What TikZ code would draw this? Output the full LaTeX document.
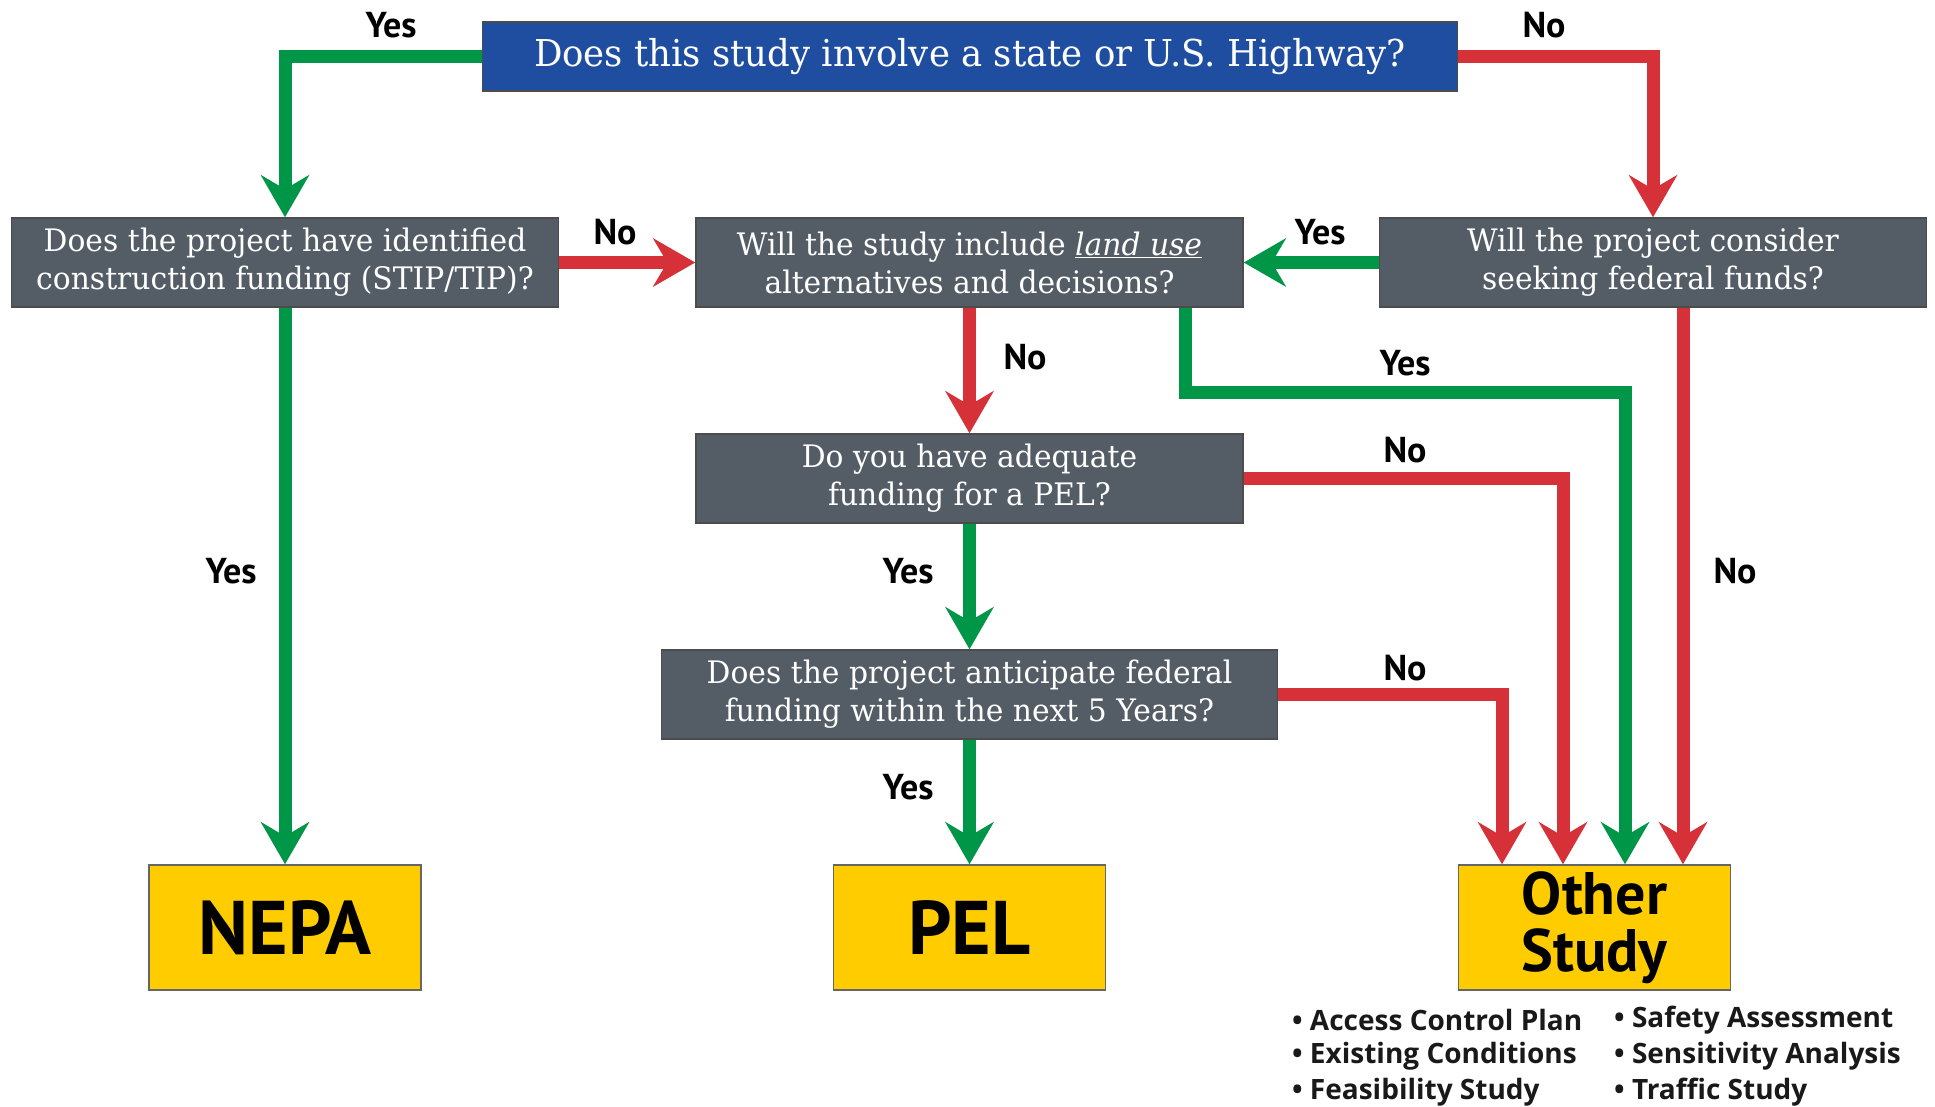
\documentclass[tikz,border=0pt]{standalone}
\usepackage{fontspec}
\usetikzlibrary{arrows.meta}
\newfontfamily\slabfont{DejaVu Serif}[FakeStretch=0.96]
\newfontfamily\labfont{PT Sans}
\newfontfamily\listfont{Open Sans}
\definecolor{hwblue}{RGB}{31,78,160}
\definecolor{qgray}{RGB}{84,93,102}
\definecolor{ygreen}{RGB}{0,150,72}
\definecolor{nred}{RGB}{214,48,56}
\definecolor{ayellow}{RGB}{255,204,0}
\tikzset{
  qbox/.style={draw=black!70, line width=1.5pt, fill=qgray, text=white, minimum width=547pt, minimum height=89pt, align=center, inner sep=0pt, font=\slabfont\fontsize{31}{38}\selectfont},
  topbox/.style={qbox, fill=hwblue, minimum width=975pt, minimum height=69pt, font=\slabfont\fontsize{37}{44}\selectfont},
  endbox/.style={draw=black!60, line width=1.5pt, fill=ayellow, minimum width=272pt, minimum height=125pt, align=center, inner sep=0pt},
  tipshape/.style={-{Stealth[length=42pt,width=48pt,inset=14pt]}},
  yesline/.style={draw=ygreen, line width=13pt, tipshape},
  noline/.style={draw=nred, line width=13pt, tipshape},
  lab/.style={font=\labfont\bfseries\fontsize{36}{40}\selectfont, text=black, inner sep=0pt},
  listitem/.style={font=\listfont\bfseries\fontsize{28}{32}\selectfont, text=black!90, anchor=west, inner sep=0pt}
}
\begin{document}
\begin{tikzpicture}[x=1pt,y=-1pt]
\fill[white] (0,0) rectangle (1935,1107);
\useasboundingbox (0,0) rectangle (1935,1107);

\node[topbox] (q0) at (970,56.5) {Does this study involve a state or U.S. Highway?};
\node[qbox] (qa) at (285,262.5) {Does the project have identified\\construction funding (STIP/TIP)?};
\node[qbox] (qb) at (969.5,262.5) {Will the study include \underline{\textit{land use}}\\alternatives and decisions?};
\node[qbox] (qc) at (1653,262.5) {Will the project consider\\seeking federal funds?};
\node[qbox] (qd) at (969.5,478.5) {Do you have adequate\\funding for a PEL?};
\node[qbox, minimum width=616pt] (qe) at (969.5,694.5) {Does the project anticipate federal\\funding within the next 5 Years?};
\node[endbox, font=\labfont\bfseries\fontsize{76}{76}\selectfont] (nepa) at (285,927.5) {NEPA};
\node[endbox, font=\labfont\bfseries\fontsize{76}{76}\selectfont] (pel) at (969.5,927.5) {PEL};
\node[endbox, font=\labfont\bfseries\fontsize{60}{57}\selectfont] (other) at (1594.5,927.5) {Other\\Study};

\draw[yesline] (q0.west) -| (qa.north);
\draw[noline] (q0.east) -| (qc.north);
\draw[noline] (qa.east) -- (qb.west);
\draw[yesline] (qc.west) -- (qb.east);
\draw[noline] (qb.south) -- (qd.north);
\draw[yesline] ([xshift=216pt]qb.south) -- ++(0,85) -| ([xshift=30.5pt]other.north);
\draw[noline] ([xshift=30pt]qc.south) -- ([xshift=88.5pt]other.north);
\draw[noline] (qd.east) -| ([xshift=-31.5pt]other.north);
\draw[noline] (qe.east) -| ([xshift=-92.5pt]other.north);
\draw[yesline] (qd.south) -- (qe.north);
\draw[yesline] (qe.south) -- (pel.north);
\draw[yesline] (qa.south) -- (nepa.north);

\node[lab] (l1) at (391,25) {Yes};
\node[lab] (l2) at (1544,25) {No};
\node[lab] (l3) at (615,232) {No};
\node[lab] (l4) at (1320,232) {Yes};
\node[lab] (l5) at (1025,357) {No};
\node[lab] (l6) at (1405,363) {Yes};
\node[lab] (l7) at (1405,450) {No};
\node[lab] (l8) at (1735,571) {No};
\node[lab] (l9) at (908,571) {Yes};
\node[lab] (l10) at (231,571) {Yes};
\node[lab] (l11) at (1405,668) {No};
\node[lab] (l12) at (908,787) {Yes};

\node[listitem] (a1) at (1292,1020) {• Access Control Plan};
\node[listitem] (a2) at (1292,1056) {• Existing Conditions};
\node[listitem] (a3) at (1292,1092) {• Feasibility Study};
\node[listitem] (b1) at (1614,1020) {• Safety Assessment};
\node[listitem] (b2) at (1614,1056) {• Sensitivity Analysis};
\node[listitem] (b3) at (1614,1092) {• Traffic Study};
\end{tikzpicture}
\end{document}
